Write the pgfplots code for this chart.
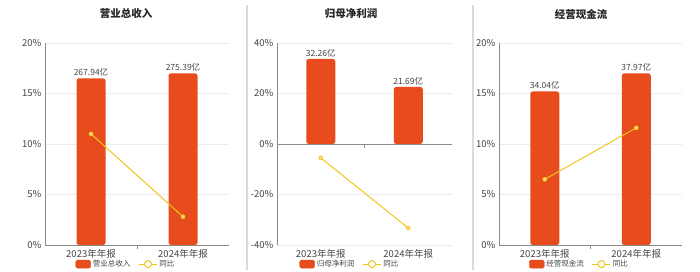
\documentclass[border=0pt]{standalone}
\usepackage{fontspec}
\setmainfont{Noto Sans CJK SC}
\usepackage{pgfplots}
\pgfplotsset{compat=1.18}
\definecolor{barc}{HTML}{E84B1C}
\definecolor{linec}{HTML}{F0C51A}
\definecolor{markf}{HTML}{F7DC70}
\definecolor{gridc}{HTML}{ECECEC}
\definecolor{axc}{HTML}{8A8A8A}
\definecolor{txt}{HTML}{444444}
\definecolor{sepc}{HTML}{DADADA}
\pgfplotsset{
  panel/.style={
    scale only axis, anchor=south west, height=202pt,
    xmin=0, xmax=2, xtick={0.5,1.5},
    xticklabels={2023年年报,2024年年报},
    axis x line*=bottom, axis y line*=left,
    x axis line style={draw=axc, line width=0.8pt},
    y axis line style={draw=axc, line width=0.6pt},
    major tick length=0pt,
    ymajorgrids, grid style={gridc, line width=0.6pt},
    tick label style={font=\fontsize{9.5}{10}\selectfont, color=txt},
    /pgf/number format/assume math mode=true,
    yticklabel={\pgfmathprintnumber{\tick}\%},
    xticklabel style={yshift=-1pt},
    clip=false,
    legend columns=2,
    legend style={draw=none, fill=none, font=\fontsize{7.5}{8}\selectfont, text=txt,
      anchor=north, yshift=-12pt, /tikz/every even column/.append style={column sep=6pt},
      inner sep=1pt},
  },
  barplot/.style={ybar, bar width=29pt, fill=barc, draw=none, rounded corners=2.5pt,
    nodes near coords, point meta=explicit symbolic, forget plot,
    nodes near coords style={font=\fontsize{8.5}{9}\selectfont, color=txt, anchor=south, inner sep=1pt, yshift=1pt}},
  lineplot/.style={linec, line width=1pt, mark=*, mark size=2pt, forget plot,
    mark options={fill=markf, draw=linec, line width=0.6pt}},
}
\newcommand{\legs}[1]{%
  \addlegendimage{legend image code/.code={\fill[barc, rounded corners=1.5pt] (0pt,-4pt) rectangle (15pt,4pt);}}
  \addlegendentry{#1}
  \addlegendimage{legend image code/.code={\draw[linec, line width=1pt] (0pt,0pt) -- (18pt,0pt); \draw[linec, fill=white, line width=1pt] (9pt,0pt) circle (3.5pt);}}
  \addlegendentry{同比}}
\begin{document}
\begin{tikzpicture}
\path[use as bounding box] (0,0) rectangle (700pt,272pt);
\draw[sepc, line width=1.2pt] (247pt,2pt) -- (247pt,267pt);
\draw[sepc, line width=1.2pt] (473pt,2pt) -- (473pt,267pt);
\node[font=\bfseries\fontsize{10.5}{11}\selectfont, text=black!85] at (126pt,258pt) {营业总收入};
\node[font=\bfseries\fontsize{10.5}{11}\selectfont, text=black!85] at (351pt,258pt) {归母净利润};
\node[font=\bfseries\fontsize{10.5}{11}\selectfont, text=black!85] at (581pt,258pt) {经营现金流};

% Panel 1
\begin{axis}[panel, at={(45pt,27pt)}, width=184pt, ymin=0, ymax=20, ytick={0,5,10,15,20},
  legend style={at={(0.44,0)}}]
\addplot[barplot] coordinates {(0.5,16.5) [267.94亿] (1.5,17.0) [275.39亿]};
\addplot[lineplot] coordinates {(0.5,11.0) (1.5,2.8)};
\legs{营业总收入}
\draw[axc, line width=0.8pt] (axis cs:1,0) -- ++(0pt,-4pt);
\end{axis}

% Panel 2
\begin{axis}[panel, at={(277pt,27pt)}, width=175pt, ymin=-40, ymax=40, ytick={-40,-20,0,20,40},
  x axis line style={draw=gridc},
  legend style={at={(0.417,0)}}]
\addplot[barplot] coordinates {(0.5,33.7) [32.26亿] (1.5,22.6) [21.69亿]};
\addplot[lineplot] coordinates {(0.5,-5.5) (1.5,-33.3)};
\legs{归母净利润}
\draw[axc, line width=0.8pt] (axis cs:0,0) -- (axis cs:2,0);
\draw[axc, line width=0.8pt] (axis cs:1,0) -- ++(0pt,-4pt);
\end{axis}

% Panel 3
\begin{axis}[panel, at={(499pt,27pt)}, width=183pt, ymin=0, ymax=20, ytick={0,5,10,15,20},
  legend style={at={(0.44,0)}}]
\addplot[barplot] coordinates {(0.5,15.2) [34.04亿] (1.5,17.0) [37.97亿]};
\addplot[lineplot] coordinates {(0.5,6.5) (1.5,11.6)};
\legs{经营现金流}
\draw[axc, line width=0.8pt] (axis cs:1,0) -- ++(0pt,-4pt);
\end{axis}
\end{tikzpicture}
\end{document}
